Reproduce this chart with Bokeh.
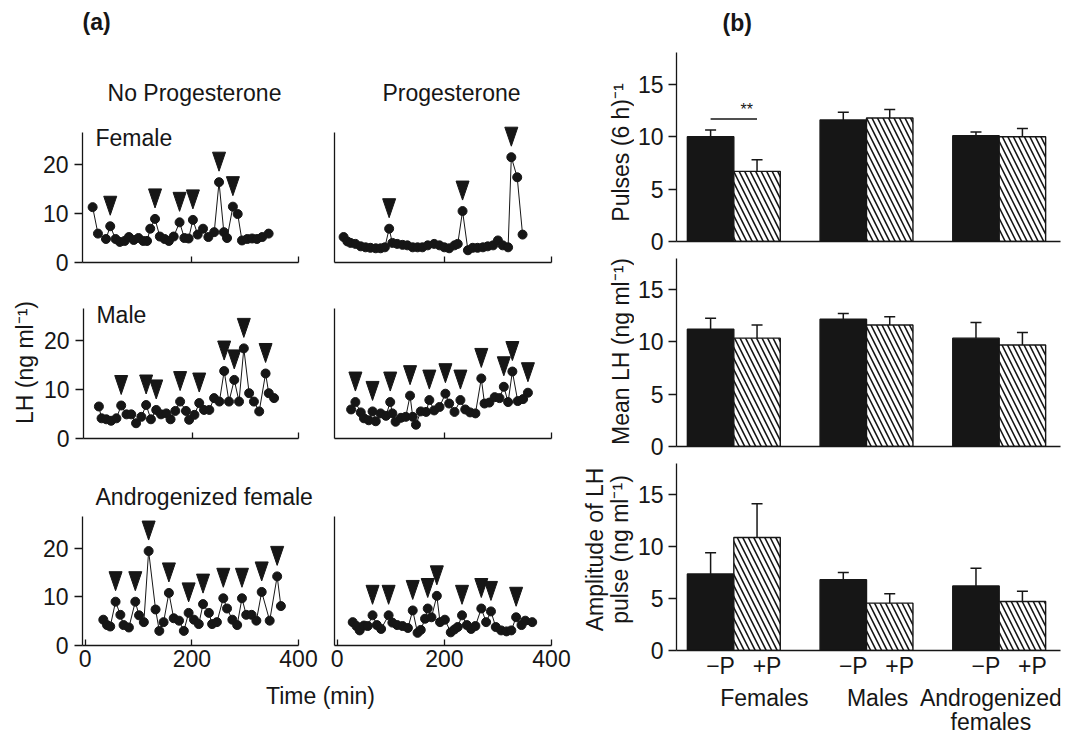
import math
from bokeh.plotting import figure
from bokeh.models import Range1d, FixedTicker, Label, ColumnDataSource, Whisker, TeeHead
from bokeh.layouts import row, column
from bokeh.embed import file_html
from bokeh.resources import INLINE

FONT = "Liberation Sans"
INK = "#161616"
TXT = "23px"
TICK_TXT = "23px"
MID_TO_BASE = 8  # px between a label's visual middle and its baseline at 23px

# ---------------- (a) LH profiles (time in min, LH in ng/ml) ----------------
female_np_t = [14, 24, 39, 47, 57, 65, 74, 82, 91, 100, 109, 116, 122, 131, 140, 149, 157, 166, 177, 186,
               194, 202, 211, 221, 231, 242, 251, 260, 266, 277, 286, 294, 304, 313, 322, 332, 344]
female_np_v = [11.3, 5.9, 4.8, 7.4, 4.8, 4.2, 4.4, 5.2, 4.6, 5.0, 4.4, 4.4, 6.9, 8.9, 5.3, 4.8, 4.4, 5.3, 8.2, 5.0,
               4.9, 8.7, 5.7, 6.9, 5.2, 6.2, 16.4, 6.2, 5.0, 11.4, 9.9, 4.5, 4.8, 4.9, 4.8, 5.2, 5.9]
female_np_pulses = [47, 131, 177, 202, 251, 277]

female_p_t = [12, 19, 25, 34, 44, 53, 62, 72, 81, 89, 97, 103, 112, 122, 131, 141, 150, 159, 169, 181,
              191, 200, 209, 219, 225, 234, 244, 253, 262, 272, 281, 291, 300, 309, 319, 325, 336, 346]
female_p_v = [5.2, 4.3, 4.0, 3.8, 3.3, 3.1, 3.0, 2.9, 2.9, 3.1, 6.9, 4.0, 3.8, 3.6, 3.5, 3.1, 3.1, 3.1, 3.5, 3.8,
              3.5, 3.1, 2.9, 3.5, 3.8, 10.5, 2.5, 3.0, 3.0, 3.1, 3.3, 3.5, 4.5, 3.5, 3.1, 21.5, 17.4, 5.7]
female_p_pulses = [97, 234, 325]

male_np_t = [24, 29, 38, 47, 57, 66, 76, 85, 94, 104, 113, 122, 132, 141, 151, 159, 168, 177, 188, 194,
             204, 213, 222, 232, 241, 251, 260, 269, 279, 288, 297, 307, 316, 326, 338, 344, 354]
male_np_v = [6.5, 4.1, 3.9, 3.6, 4.1, 6.7, 4.9, 4.9, 3.1, 4.4, 6.8, 3.9, 5.8, 4.9, 5.1, 3.9, 5.6, 7.5, 5.6, 3.8,
             4.8, 7.2, 5.8, 5.8, 8.2, 7.5, 13.7, 7.5, 11.9, 7.5, 18.3, 9.2, 7.5, 5.5, 13.2, 9.2, 8.2]
male_np_pulses = [66, 113, 132, 177, 213, 260, 279, 297, 338]

male_p_t = [26, 34, 44, 50, 59, 66, 72, 81, 91, 99, 103, 109, 119, 128, 136, 141, 147, 156, 166, 172,
            181, 191, 202, 209, 219, 230, 239, 248, 258, 269, 275, 284, 294, 303, 311, 319, 327, 337, 347, 356]
male_p_v = [5.9, 7.4, 5.3, 4.1, 3.7, 5.5, 3.5, 5.1, 4.6, 7.4, 5.1, 3.4, 4.2, 4.4, 8.7, 4.4, 2.8, 5.5, 5.4, 7.8,
            5.7, 6.4, 9.1, 7.1, 5.4, 7.8, 5.9, 5.3, 5.1, 12.2, 7.1, 7.3, 8.4, 8.2, 10.5, 7.4, 13.6, 7.6, 8.0, 9.3]
male_p_pulses = [34, 66, 99, 136, 172, 202, 230, 269, 311, 327, 356]

andro_np_t = [34, 41, 47, 57, 66, 72, 82, 94, 101, 110, 119, 132, 139, 147, 157, 166, 176, 185, 194, 204,
              213, 221, 232, 238, 247, 259, 266, 276, 285, 294, 302, 312, 321, 331, 346, 360, 367]
andro_np_v = [5.3, 4.2, 3.9, 9.0, 6.3, 4.2, 3.7, 9.0, 6.2, 4.8, 19.4, 7.4, 3.0, 4.8, 10.8, 5.6, 5.1, 3.0, 6.7, 5.3,
              4.4, 8.5, 6.7, 4.4, 4.8, 9.7, 7.6, 5.3, 4.2, 9.7, 6.3, 6.3, 5.1, 11.0, 5.1, 14.2, 8.1]
andro_np_pulses = [57, 94, 119, 157, 194, 221, 259, 294, 331, 360]

andro_p_t = [29, 36, 42, 50, 57, 66, 74, 82, 96, 103, 112, 122, 132, 141, 150, 156, 164, 169, 176, 186,
             192, 201, 212, 219, 225, 233, 242, 250, 258, 269, 278, 287, 296, 306, 316, 325, 334, 344, 351, 364]
andro_p_v = [4.8, 4.0, 3.1, 4.1, 4.0, 6.2, 4.2, 3.4, 6.2, 4.7, 4.2, 4.0, 3.6, 7.2, 2.6, 3.2, 5.5, 7.6, 5.8, 10.2,
             4.8, 5.3, 2.7, 3.3, 3.8, 6.2, 4.2, 3.4, 4.0, 7.6, 4.8, 7.0, 3.8, 3.1, 2.9, 3.1, 5.8, 4.2, 5.1, 4.8]
andro_p_pulses = [66, 96, 141, 169, 186, 233, 269, 287, 334]

time_ticks = [0, 200, 400]
lh_ticks = [0, 10, 20]

# ---------------- (b) group summaries ----------------
groups = ["Females", "Males", "Androgenized females"]
treatments = ["\u2212P", "+P"]
pulses_minus = [10.0, 11.6, 10.1]
pulses_minus_sem = [0.65, 0.75, 0.35]
pulses_plus = [6.7, 11.8, 10.0]
pulses_plus_sem = [1.1, 0.8, 0.8]
meanlh_minus = [11.2, 12.15, 10.35]
meanlh_minus_sem = [1.05, 0.55, 1.5]
meanlh_plus = [10.35, 11.6, 9.7]
meanlh_plus_sem = [1.25, 0.8, 1.2]
amp_minus = [7.35, 6.8, 6.2]
amp_minus_sem = [2.05, 0.7, 1.7]
amp_plus = [10.85, 4.55, 4.7]
amp_plus_sem = [3.25, 0.9, 1.0]
sig_level = 11.7
bar_ticks = [0, 5, 10, 15]


# ---------------- helpers ----------------
def to_data(g, px, py):
    fl, fr, ft, fb, (x0, x1), (y0, y1) = g
    return (x0 + (px - fl) * (x1 - x0) / (fr - fl),
            y0 + (fb - py) * (y1 - y0) / (fb - ft))


def add_text(p, g, px, base_py, text, align="left", rotated=False, size=TXT, bold=False):
    """px/base_py: page position of the text's start (or centre) and its baseline."""
    if rotated:
        x, y = to_data(g, px - MID_TO_BASE, base_py)
        ang = math.pi / 2
    else:
        x, y = to_data(g, px, base_py - MID_TO_BASE)
        ang = 0.0
    p.add_layout(Label(x=x, y=y, text=text, text_font=FONT, text_font_size=size,
                       text_color=INK, text_align=align, text_baseline="middle",
                       angle=ang, text_font_style="bold" if bold else "normal"))


def style_axis(ax):
    ax.axis_line_color = INK
    ax.axis_line_width = 1.3
    ax.major_tick_line_color = INK
    ax.major_tick_line_width = 1.3
    ax.minor_tick_line_color = None
    ax.major_label_text_font = FONT
    ax.major_label_text_font_size = TICK_TXT
    ax.major_label_text_color = INK


def hide_labels(ax):
    ax.major_label_text_font_size = "1px"
    ax.major_label_text_color = None
    ax.major_label_standoff = 0


def base_fig(g, width, height, mb):
    fl, fr, ft, fb, xr, yr = g
    p = figure(width=width, height=height, x_range=Range1d(*xr), y_range=Range1d(*yr), title=None,
               output_backend="svg", toolbar_location=None,
               min_border_left=mb[0], min_border_right=mb[1], min_border_top=mb[2], min_border_bottom=mb[3])
    p.outline_line_color = None
    p.grid.visible = False
    p.background_fill_color = "white"
    p.border_fill_color = "white"
    style_axis(p.xaxis[0])
    style_axis(p.yaxis[0])
    return p


def ts_fig(g, width, height, mb, y_top, left_col, bottom_row):
    p = base_fig(g, width, height, mb)
    xa, ya = p.xaxis[0], p.yaxis[0]
    xa.major_tick_in = 6
    xa.major_tick_out = 0
    if bottom_row:
        xa.ticker = FixedTicker(ticks=time_ticks)
        xa.major_label_standoff = 4
    else:
        xa.ticker = FixedTicker(ticks=time_ticks[1:])
        hide_labels(xa)
    ya.bounds = (g[5][0], y_top)
    if left_col:
        ya.ticker = FixedTicker(ticks=lh_ticks)
        ya.major_tick_out = 8
        ya.major_tick_in = 0
        ya.major_label_standoff = 6
    else:
        ya.ticker = FixedTicker(ticks=[])
        ya.major_tick_out = 0
        ya.major_tick_in = 0
        hide_labels(ya)
    return p


def draw_series(p, g, t, v, pulses):
    fl, fr, ft, fb, (x0, x1), (y0, y1) = g
    ppx = (fr - fl) / (x1 - x0)
    ppy = (fb - ft) / (y1 - y0)
    p.line(t, v, line_color=INK, line_width=1.0)
    p.scatter(t, v, marker="circle", size=9, fill_color=INK, line_color=INK)
    xs, ys = [], []
    for tp in pulses:
        vp = v[t.index(tp)]
        tip = vp + 11 / ppy
        top = tip + 19 / ppy
        hw = 6.5 / ppx
        xs.append([tp - hw, tp + hw, tp])
        ys.append([top, top, tip])
    p.patches(xs, ys, fill_color=INK, line_color=INK, line_width=1)


def strip(g):
    fl, fr, ft, fb, xr, yr = g
    p = figure(width=fr - fl, height=fb - ft, x_range=Range1d(*xr), y_range=Range1d(*yr), title=None,
               x_axis_type=None, y_axis_type=None, output_backend="svg", toolbar_location=None,
               min_border=0)
    p.outline_line_color = None
    p.background_fill_color = "white"
    p.border_fill_color = "white"
    return p


# ---------------- (a) ----------------
XR = (-5, 400)
LX = (82, 298)
RX = (334, 551)
R1 = (118, 262, (0, 29.4), 26.5)
R2 = (298, 438, (0, 28.43), 26.4)
R3 = (516, 645, (0, 26.5), 26.5)


def geo(cx, r):
    return (cx[0], cx[1], r[0], r[1], XR, r[2])


g_head = (0, 575, 0, 110, (0, 575), (0, 110))
g_lh = (0, 40, 277, 452, (0, 40), (0, 175))
g_mid = (0, 575, 452, 510, (0, 575), (0, 58))
g_foot = (0, 575, 680, 735, (0, 575), (0, 55))

head = strip(g_head)
add_text(head, g_head, 82, 29, "(a)", bold=True)
add_text(head, g_head, 194, 100, "No Progesterone", align="center")
add_text(head, g_head, 451, 100, "Progesterone", align="center")

g11, g12 = geo(LX, R1), geo(RX, R1)
g21, g22 = geo(LX, R2), geo(RX, R2)
g31, g32 = geo(LX, R3), geo(RX, R3)

p11 = ts_fig(g11, 318, 167, (82, 20, 8, 15), R1[3], True, False)
p12 = ts_fig(g12, 257, 167, (16, 24, 8, 15), R1[3], False, False)
p21 = ts_fig(g21, 278, 175, (42, 20, 21, 14), R2[3], True, False)
p22 = ts_fig(g22, 257, 175, (16, 24, 21, 14), R2[3], False, False)
p31 = ts_fig(g31, 318, 170, (82, 20, 6, 35), R3[3], True, True)
p32 = ts_fig(g32, 257, 170, (16, 24, 6, 35), R3[3], False, True)

draw_series(p11, g11, female_np_t, female_np_v, female_np_pulses)
draw_series(p12, g12, female_p_t, female_p_v, female_p_pulses)
draw_series(p21, g21, male_np_t, male_np_v, male_np_pulses)
draw_series(p22, g22, male_p_t, male_p_v, male_p_pulses)
draw_series(p31, g31, andro_np_t, andro_np_v, andro_np_pulses)
draw_series(p32, g32, andro_p_t, andro_p_v, andro_p_pulses)

add_text(p11, g11, 95, 145, "Female")
add_text(p21, g21, 95, 322, "Male")

lh = strip(g_lh)
add_text(lh, g_lh, 32, 357, "LH (ng ml\u207b\u00b9)", align="center", rotated=True)

mid = strip(g_mid)
add_text(mid, g_mid, 95, 504, "Androgenized female")

foot = strip(g_foot)
add_text(foot, g_foot, 320, 703, "Time (min)", align="center")

left_block = column(head, row(p11, p12), row(lh, p21, p22), mid, row(p31, p32), foot)

# ---------------- (b) ----------------
BXR = (-0.432, 2.462)
gb1 = (675, 1060, 52, 241, BXR, (0, 18.05))
gb2 = (675, 1060, 258, 446, BXR, (0, 17.96))
gb3 = (675, 1060, 463, 651, BXR, (0, 17.96))

x_minus = [i - 0.175 for i in range(len(groups))]
x_plus = [i + 0.175 for i in range(len(groups))]


def bar_fig(g, height, mbt, mbb):
    p = base_fig(g, 451, height, (41, 25, mbt, mbb))
    xa, ya = p.xaxis[0], p.yaxis[0]
    ya.ticker = FixedTicker(ticks=bar_ticks)
    ya.major_tick_out = 8
    ya.major_tick_in = 0
    ya.major_label_standoff = 5
    xa.ticker = FixedTicker(ticks=[])
    xa.major_tick_out = 0
    xa.major_tick_in = 0
    hide_labels(xa)
    return p


def draw_bars(p, minus, minus_sem, plus, plus_sem):
    p.vbar(x=x_minus, top=minus, bottom=0, width=0.35, fill_color=INK, line_color=INK, line_width=1.4)
    p.vbar(x=x_plus, top=plus, bottom=0, width=0.35, fill_color="white", line_color=INK, line_width=1.4,
           hatch_pattern="left_diagonal_line", hatch_color=INK, hatch_scale=11, hatch_weight=1.6)
    tops = minus + plus
    sems = minus_sem + plus_sem
    src = ColumnDataSource(dict(x=x_minus + x_plus, lower=tops,
                                upper=[a + b for a, b in zip(tops, sems)]))
    p.add_layout(Whisker(source=src, base="x", lower="lower", upper="upper", dimension="height",
                         line_color=INK, line_width=1.5, level="overlay",
                         upper_head=TeeHead(size=11, line_color=INK, line_width=1.5), lower_head=None))


g_bhead = (634, 1085, 0, 45, (0, 451), (0, 45))
bhead = strip(g_bhead)
add_text(bhead, g_bhead, 688, 30, "(b)", bold=True)

b1 = bar_fig(gb1, 209, 7, 13)
b2 = bar_fig(gb2, 205, 4, 13)
b3 = bar_fig(gb3, 222, 4, 30)

draw_bars(b1, pulses_minus, pulses_minus_sem, pulses_plus, pulses_plus_sem)
draw_bars(b2, meanlh_minus, meanlh_minus_sem, meanlh_plus, meanlh_plus_sem)
draw_bars(b3, amp_minus, amp_minus_sem, amp_plus, amp_plus_sem)

# -P / +P labels as tick labels of the bottom chart (slightly right of the bar centres, as drawn)
lab_shift = 10 / 133.0
tick_pos, tick_lab = [], {}
for xm, xp in zip(x_minus, x_plus):
    for xx, tx in ((xm, treatments[0]), (xp, treatments[1])):
        tv = round(xx + lab_shift, 4)
        tick_pos.append(tv)
        tick_lab[tv] = tx
xa3 = b3.xaxis[0]
xa3.ticker = FixedTicker(ticks=tick_pos)
xa3.major_label_overrides = tick_lab
xa3.major_tick_line_color = None
xa3.major_label_text_font_size = TXT
xa3.major_label_text_color = INK
xa3.major_label_standoff = 2

# significance bar between female -P and +P
b1.segment(x0=[x_minus[0]], y0=[sig_level], x1=[x_plus[0]], y1=[sig_level], line_color=INK, line_width=1.3)
b1.add_layout(Label(x=(x_minus[0] + x_plus[0]) / 2, y=sig_level, x_offset=13, y_offset=1, text="**",
                    text_font=FONT, text_font_size="16px", text_color=INK, text_align="center",
                    text_baseline="bottom"))

# axis titles strip for (b)
g_yl = (575, 634, 0, 735, (0, 59), (0, 735))
yl = strip(g_yl)
add_text(yl, g_yl, 628, 152, "Pulses (6 h)\u207b\u00b9", align="center", rotated=True)
add_text(yl, g_yl, 628, 351, "Mean LH (ng ml\u207b\u00b9)", align="center", rotated=True)
add_text(yl, g_yl, 602, 549, "Amplitude of LH", align="center", rotated=True)
add_text(yl, g_yl, 627, 549, "pulse (ng ml\u207b\u00b9)", align="center", rotated=True)

# group labels strip under the bottom bar chart (same x mapping as the bars)
bx0 = to_data(gb3, 634, 0)[0]
bx1 = to_data(gb3, 1085, 0)[0]
g_bfoot = (634, 1085, 681, 735, (bx0, bx1), (0, 54))
bfoot = strip(g_bfoot)
y_grp = to_data(g_bfoot, 0, 705 - MID_TO_BASE)[1]
y_grp2 = to_data(g_bfoot, 0, 729 - MID_TO_BASE)[1]
group_lines = [["Females"], ["Males"], ["Androgenized", "females"]]
for i, lines in enumerate(group_lines):
    for j, ln in enumerate(lines):
        bfoot.add_layout(Label(x=i, y=y_grp if j == 0 else y_grp2, x_offset=4, text=ln, text_font=FONT,
                               text_font_size=TXT, text_color=INK, text_align="center",
                               text_baseline="middle"))

bars_col = column(bhead, b1, b2, b3, bfoot)
right_block = row(yl, bars_col)
layout = row(left_block, right_block)

open("out.html", "w").write(file_html(layout, INLINE))
